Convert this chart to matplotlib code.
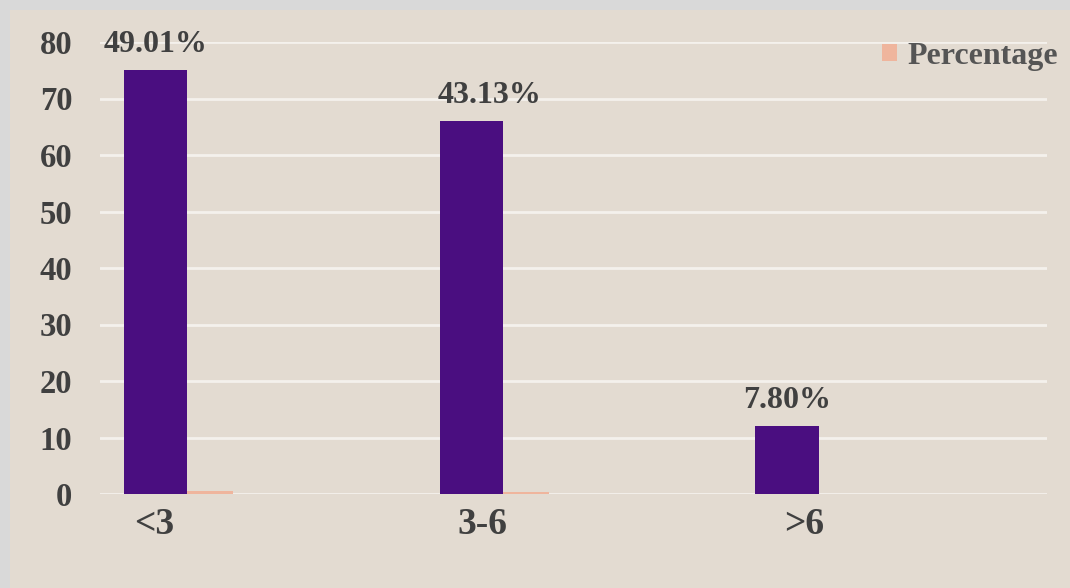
import numpy as np
import matplotlib.pyplot as plt
from matplotlib.patches import Rectangle

# Duration groups and the two series plotted for each
groups = ['<3', '3-6', '>6']
counts = [75, 66, 12]
percentage = [0.4901, 0.4313, 0.0780]
pct_labels = ['49.01%', '43.13%', '7.80%']

bg = '#e3dbd1'
purple = '#4a0e80'
salmon = '#efb59d'
text_col = '#404040'

plt.rcParams['font.family'] = ['Liberation Serif', 'DejaVu Serif']
plt.rcParams['font.weight'] = 'bold'

fig = plt.figure(figsize=(10.7, 5.88), dpi=100, facecolor=bg)
# thin grey frame along the top and left edge
fig.patches.append(Rectangle((0, 0), 10 / 1070, 1, transform=fig.transFigure,
                             facecolor='#d9d9d9', edgecolor='none', zorder=0))
fig.patches.append(Rectangle((0, 1 - 10 / 588), 1, 10 / 588, transform=fig.transFigure,
                             facecolor='#d9d9d9', edgecolor='none', zorder=0))

ax = fig.add_axes([100 / 1070, 1 - 494 / 588, 947 / 1070, 452 / 588])
ax.set_facecolor('none')

x = np.arange(len(groups))
w = 0.2
bars = ax.bar(x, counts, width=w, color=purple, zorder=3, label='Count')
ax.bar(x + 0.146, percentage, width=w, color=salmon, zorder=2, label='Percentage')

# value labels sit above the count bars (middle one nudged right a little)
label_dx = [0, 13, 0]
for b, lab, dx in zip(bars, pct_labels, label_dx):
    ax.annotate(lab, (b.get_x() + b.get_width() / 2, b.get_height()),
                xytext=(dx, 8), textcoords='offset points', ha='center', va='bottom',
                fontsize=23, fontweight='bold', color=text_col)

ax.set_xlim(-0.177, 2.824)
ax.set_ylim(0, 80)
ax.set_yticks(range(0, 81, 10))
ax.yaxis.grid(True, color='#f4f1ec', linewidth=2)
ax.set_axisbelow(True)
for s in ax.spines.values():
    s.set_visible(False)
ax.tick_params(length=0)
ax.tick_params(axis='y', labelsize=23.5, labelcolor=text_col, pad=20)
ax.set_xticks(x + np.array([-0.006, 0.035, 0.054]))
ax.set_xticklabels(groups, fontsize=27, color=text_col)
ax.tick_params(axis='x', pad=9)

h, l = ax.get_legend_handles_labels()
ax.legend(h[1:], l[1:], loc='upper right', bbox_to_anchor=(1.029, 1.035), frameon=False,
          fontsize=23, labelcolor='#555555', handlelength=0.45, handleheight=0.45,
          handletextpad=0.35, borderpad=0)

fig.savefig('out.png', dpi=100, facecolor=bg)
